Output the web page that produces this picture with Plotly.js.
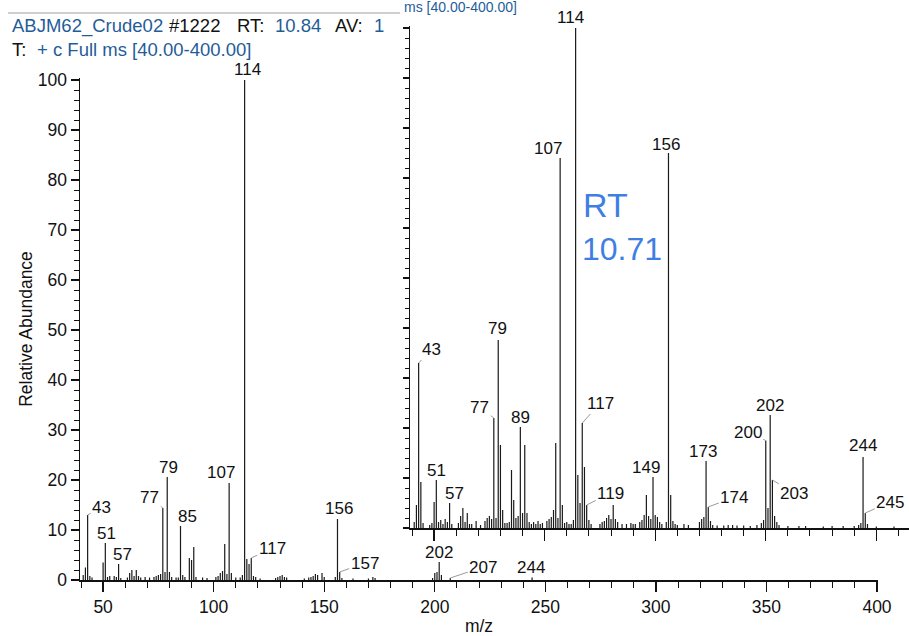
<!DOCTYPE html>
<html><head><meta charset="utf-8">
<script src="https://cdn.plot.ly/plotly-3.0.1.min.js"></script>
<style>html,body{margin:0;padding:0;background:#fff;}#chart{width:909px;height:636px;}</style>
</head><body><div id="chart"></div>
<script>
// ---- main spectrum (RT 10.84) ----
const mainMz = [41,42,43,44,45,50,51,52,53,55,56,57,58,61,62,63,64,65,66,67,69,71,73,74,75,76,77,78,79,80,81,83,84,85,86,87,89,90,91,92,95,97,101,102,103,104,105,106,107,108,110,112,113,114,115,116,117,118,119,121,128,129,130,131,132,133,141,143,144,145,146,147,149,150,155,156,157,158,163,170,172,173,199,200,201,202,203,207,244];
const mainAb = [1,2.5,13,0.8,0.5,3.5,7.4,0.6,0.8,0.8,0.6,3.2,0.4,0.5,1.4,2,0.8,2,0.8,0.5,0.6,0.5,0.6,0.8,1,1.2,14.4,1.6,20.6,1.6,0.6,0.5,0.5,10.8,1,0.6,4.4,4,6.6,0.6,0.5,0.4,0.6,0.8,1.4,1.8,7.2,1.2,19.4,1.4,0.5,0.5,1,100,4.2,3.2,4.4,0.8,0.6,0.3,0.4,0.6,0.8,1,0.6,0.5,0.3,0.5,0.6,0.8,1.2,1,1.4,0.6,0.6,12.2,1.6,0.4,0.3,0.3,0.6,0.4,0.4,1.4,1.6,3.6,1,0.4,0.5];
const mainLabeled = [43,51,57,77,79,85,107,114,117,156,157,202,207,244];

// ---- inset spectrum (RT 10.71) ----
const insetMz = [41,42,43,44,45,48,49,50,51,52,53,54,55,56,57,58,61,62,63,64,65,66,67,69,71,73,74,75,76,77,78,79,80,81,82,83,84,85,86,87,88,89,90,91,92,93,94,95,96,97,98,99,101,102,103,104,105,106,107,108,109,110,111,112,113,114,115,116,117,118,119,120,121,125,126,127,128,129,130,131,132,133,135,137,139,140,141,143,144,145,146,147,148,149,150,151,152,153,155,156,157,158,159,160,163,165,170,171,172,173,174,175,176,178,181,183,185,187,190,193,196,198,199,200,201,202,203,204,205,206,210,215,218,226,230,235,240,242,243,244,245,246,250,258];
const insetAb = [1.2,4.6,33,9.2,1,0.6,1,5.2,9.6,1.2,1.6,0.8,1.8,1.2,5,0.8,1,2.4,4,1.2,3,0.8,0.8,1.4,0.6,1.4,2,2.4,1.8,22,2,37.6,16.6,3.6,1,1,1.2,11.6,5.6,2,2.4,20.2,3,16.6,3,1.2,0.8,1.2,0.8,1.4,0.8,1,1.4,1.8,2.2,3.6,17,2,74,4.6,1,1.2,0.8,0.8,1.6,100,10.6,5,21,12.2,4.6,1.6,0.8,0.8,1.2,1.4,2,2.6,1.8,4.6,1.8,1.2,0.8,0.8,1,0.8,0.8,1.2,1.6,2.6,6.6,2.4,1.8,10.2,2.6,2.2,1.2,0.8,1.2,75,6.6,1.4,0.8,0.6,0.8,0.6,1.2,1.8,2.2,13.4,4.2,1.4,0.6,0.5,0.5,0.6,0.6,0.5,0.5,0.4,0.6,1,1.6,17.5,4,22.6,9.6,2.4,1.2,0.6,0.4,0.4,0.4,0.3,0.4,0.4,0.4,0.6,1,14.2,3,0.8,0.3,0.3];
const insetLabeled = [43,51,57,77,79,89,107,114,117,119,149,156,173,174,200,202,203,244,245];

const xTickVals = [50,100,150,200,250,300,350,400];
const yTickVals = [0,10,20,30,40,50,60,70,80,90,100];

// ---- layout helpers (pixel geometry) ----
const W = 909, H = 636;
const fx = px => px / W;
const fy = py => 1 - py / H;
const FONT = 'Liberation Sans, Arial, Helvetica, sans-serif';
const BLUE = '#1f5d99';
const INK = '#111111';

function sticks(mz, ab) {
  const x = [], y = [];
  mz.forEach((m, i) => { x.push(m, m, null); y.push(0, ab[i], null); });
  return {x, y};
}
const sm = sticks(mainMz, mainAb);
const si = sticks(insetMz, insetAb);

const traces = [
  {x: sm.x, y: sm.y, xaxis: 'x', yaxis: 'y', mode: 'lines', line: {color: '#1a1a1a', width: 1.2}, hoverinfo: 'skip'},
  {x: si.x, y: si.y, xaxis: 'x2', yaxis: 'y2', mode: 'lines', line: {color: '#1a1a1a', width: 1.2}, hoverinfo: 'skip'}
];

// label placement (pixel offsets of label centre from peak top)
const mainOffsets = {43:[14,-8],51:[1,-10],57:[4,-10],77:[-13,-11],79:[1,-10],85:[7,-10],107:[-8,-11],114:[3,-10],117:[21,-10],156:[2,-11],157:[25,-9],202:[0,-10],207:[33,-11],244:[-1,-10]};
const insetOffsets = {43:[13,-14],51:[0,-10],57:[5,-10],77:[-14,-11],79:[-1,-12],89:[0,-10],107:[-12,-10],114:[-5,-10],117:[18,-20],119:[24,-12],149:[-7,-10],156:[-2,-9],173:[-3,-10],174:[26,-10],200:[-18,-8],202:[0,-10],203:[22,13],244:[0,-12],245:[25,-11]};

const labelFont = {family: FONT, size: 17, color: INK};
function peakLabels(mz, ab, labeled, offs, xr, yr) {
  return labeled.map(m => {
    const h = ab[mz.indexOf(m)];
    const o = offs[m] || [0, -10];
    const lead = Math.abs(o[0]) > 11 || o[1] > 0;
    if (lead) {
      return {x: m, y: h, xref: xr, yref: yr, text: String(m), showarrow: true, arrowhead: 0,
        arrowwidth: 1, arrowcolor: '#9a9a9a', ax: o[0], ay: o[1], standoff: 0, font: labelFont};
    }
    return {x: m, y: h, xref: xr, yref: yr, text: String(m), showarrow: false,
      xshift: o[0], yshift: -o[1], xanchor: 'center', yanchor: 'middle', font: labelFont};
  });
}

function txt(text, px, py, color, size, family) {
  return {text: text, x: fx(px), y: fy(py), xref: 'paper', yref: 'paper', xanchor: 'left',
    yanchor: 'middle', showarrow: false, font: {family: family || FONT, size: size || 18.5, color: color}};
}
const HAND = 'Liberation Sans Narrow, Liberation Sans, sans-serif';

const annotations = [].concat(
  peakLabels(mainMz, mainAb, mainLabeled, mainOffsets, 'x', 'y'),
  peakLabels(insetMz, insetAb, insetLabeled, insetOffsets, 'x2', 'y2'),
  [
    txt('ABJM62_Crude02', 10, 26, BLUE),
    txt('#1222', 167, 26, INK),
    txt('RT:', 235, 26, INK),
    txt('10.84', 273, 26, BLUE),
    txt('AV:', 333, 26, INK),
    txt('1', 372, 26, BLUE),
    txt('T:', 10, 50, INK),
    txt('+ c Full ms [40.00-400.00]', 35, 50, BLUE),
    txt('ms [40.00-400.00]', 402, 7, BLUE, 14),
    txt('RT', 581, 205, '#3f7fe3', 34, HAND),
    txt('10.71', 580, 249, '#3f7fe3', 32, HAND)
  ]
);

const tickFont = {family: FONT, size: 17.5, color: INK};
const layout = {
  width: W, height: H, autosize: false,
  margin: {l: 0, r: 0, t: 0, b: 0, pad: 0},
  paper_bgcolor: '#ffffff', plot_bgcolor: 'rgba(0,0,0,0)',
  showlegend: false,
  xaxis: {
    domain: [fx(80), fx(878)], range: [39.548, 400.452], anchor: 'y',
    showline: true, linecolor: INK, linewidth: 1.5, zeroline: false, showgrid: false,
    ticks: 'outside', tickvals: xTickVals, ticklen: 10, tickwidth: 1.3, tickcolor: INK,
    minor: {dtick: 10, tick0: 0, ticks: 'outside', ticklen: 6, tickwidth: 1, tickcolor: INK},
    tickfont: tickFont,
    title: {text: 'm/z', font: {family: FONT, size: 17.5, color: INK}, standoff: 4}
  },
  yaxis: {
    domain: [fy(580), fy(78)], range: [0, 100.4], anchor: 'x',
    showline: true, linecolor: INK, linewidth: 1.5, zeroline: false, showgrid: false,
    ticks: 'outside', tickvals: yTickVals, ticklen: 8, tickwidth: 1.3, tickcolor: INK,
    minor: {dtick: 2, tick0: 0, ticks: 'outside', ticklen: 5, tickwidth: 1, tickcolor: INK},
    tickfont: tickFont,
    title: {text: 'Relative Abundance', font: {family: FONT, size: 17.5, color: INK}, standoff: 0}
  },
  xaxis2: {
    domain: [fx(410), 1], range: [39.095, 264.78], anchor: 'y2',
    showline: true, linecolor: INK, linewidth: 1.5, zeroline: false, showgrid: false,
    ticks: 'outside', tickvals: [50,100,150,200,250], ticklen: 11, tickwidth: 1.3, tickcolor: INK,
    minor: {dtick: 10, tick0: 0, ticks: 'outside', ticklen: 6, tickwidth: 1, tickcolor: INK},
    showticklabels: false
  },
  yaxis2: {
    domain: [fy(528), fy(26)], range: [0, 100.4], anchor: 'x2',
    showline: true, linecolor: INK, linewidth: 1.5, zeroline: false, showgrid: false,
    ticks: 'outside', dtick: 10, tick0: 0, ticklen: 6, tickwidth: 1.2, tickcolor: INK,
    minor: {dtick: 2, tick0: 0, ticks: 'outside', ticklen: 4, tickwidth: 1, tickcolor: INK},
    showticklabels: false
  },
  shapes: [
    {type: 'line', xref: 'paper', yref: 'paper', x0: fx(8), x1: fx(400), y0: fy(13), y1: fy(13),
      line: {color: '#a0a0a0', width: 1.2}}
  ],
  annotations: annotations
};

Plotly.newPlot('chart', traces, layout, {displayModeBar: false, staticPlot: true});
</script>
</body></html>
